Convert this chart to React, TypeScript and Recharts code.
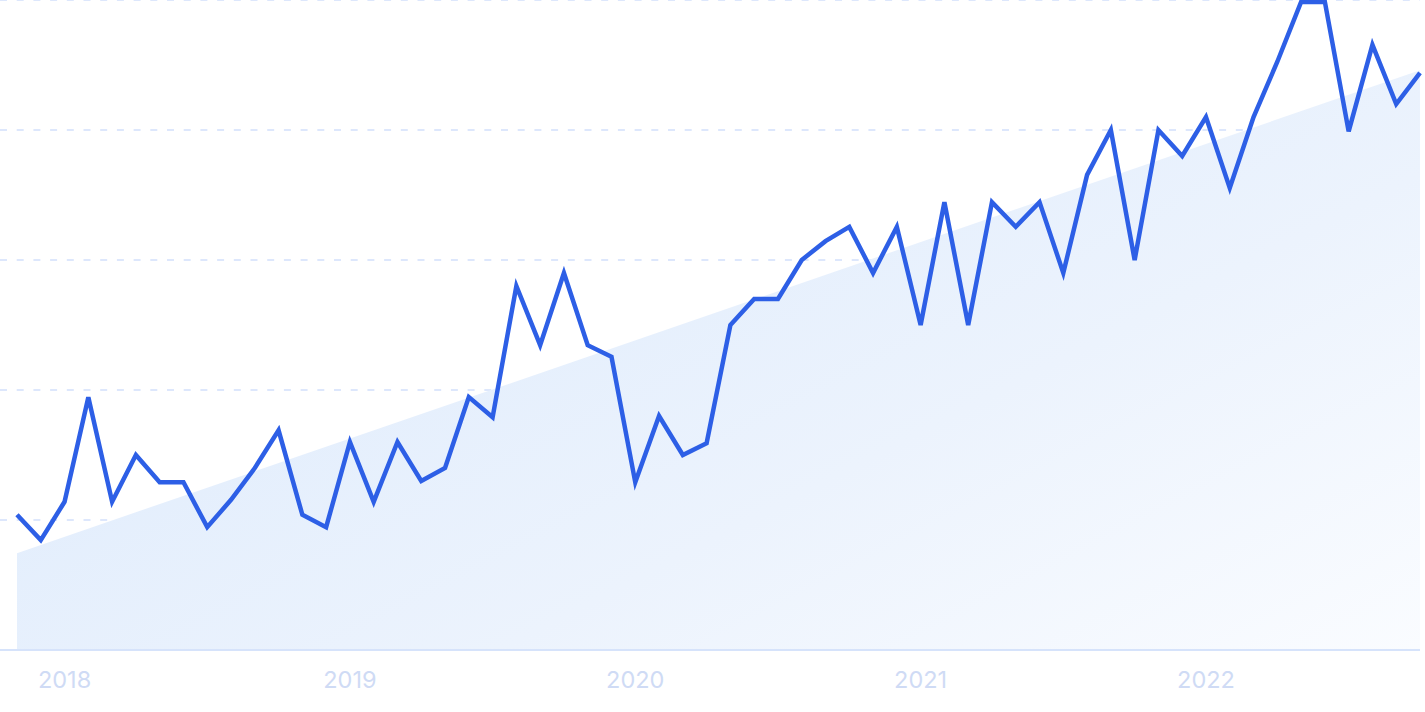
import React from 'react';
import { ComposedChart, Line, Area, XAxis, YAxis, CartesianGrid } from 'recharts';

const months = [
  '2017-11', '2017-12',
  '2018-01', '2018-02', '2018-03', '2018-04', '2018-05', '2018-06', '2018-07', '2018-08', '2018-09', '2018-10', '2018-11', '2018-12',
  '2019-01', '2019-02', '2019-03', '2019-04', '2019-05', '2019-06', '2019-07', '2019-08', '2019-09', '2019-10', '2019-11', '2019-12',
  '2020-01', '2020-02', '2020-03', '2020-04', '2020-05', '2020-06', '2020-07', '2020-08', '2020-09', '2020-10', '2020-11', '2020-12',
  '2021-01', '2021-02', '2021-03', '2021-04', '2021-05', '2021-06', '2021-07', '2021-08', '2021-09', '2021-10', '2021-11', '2021-12',
  '2022-01', '2022-02', '2022-03', '2022-04', '2022-05', '2022-06', '2022-07', '2022-08', '2022-09', '2022-10',
];

const interest = [
  20.8, 16.9,
  22.8, 38.9, 22.8, 30, 25.8, 25.8, 18.9, 23.1, 28, 33.8, 20.8, 18.9,
  32, 22.8, 32, 26, 28, 38.9, 35.8, 56, 46.9, 58, 46.9, 45.1,
  25.8, 36, 30, 31.8, 50, 54, 54, 60, 62.9, 65.1, 58, 65.1, 50, 68.9,
  50, 68.9, 65.1, 68.9, 58, 73.1, 80, 60, 80, 76,
  82, 71.1, 82, 90.5, 99.7, 99.7, 79.8, 93.1, 84, 88.8,
];

// trend line: only start and end values
const trendStart = 14.9;
const trendEnd = 89.2;

const tickMonths = ['2018-01', '2019-01', '2020-01', '2021-01', '2022-01'];
const yearLabels = ['2018', '2019', '2020', '2021', '2022'];
const yTicks = [0, 20, 40, 60, 80, 100];

const data = months.map((m, i) => ({
  month: m,
  value: interest[i],
  trend: i === 0 ? trendStart : i === months.length - 1 ? trendEnd : null,
}));

export default function App() {
  return (
    <div style={{ position: 'absolute', left: 0, top: 0, width: 1425, height: 712, background: '#fff' }}>
      <ComposedChart width={1425} height={712} data={data} margin={{ top: 0, right: 5, left: 0, bottom: 0 }}>
        <defs>
          <linearGradient id="trendFill" x1="0" y1="0.2" x2="1" y2="1">
            <stop offset="0%" stopColor="#dceafc" />
            <stop offset="60%" stopColor="#ecf3fd" />
            <stop offset="100%" stopColor="#fafcff" />
          </linearGradient>
        </defs>
        <CartesianGrid vertical={false} stroke="#d2e0fb" strokeDasharray="7 9.7" strokeWidth={1.6} />
        <XAxis
          dataKey="month"
          scale="point"
          ticks={tickMonths}
          interval={0}
          tickFormatter={(v: string) => yearLabels[tickMonths.indexOf(v)] ?? ''}
          padding={{ left: 17, right: 0 }}
          axisLine={{ stroke: '#d6e3fb', strokeWidth: 2 }}
          tickLine={false}
          tickSize={0}
          tickMargin={21}
          height={62}
          tick={{ fill: '#cfdbf5', fontSize: 23.5, fontFamily: 'Inter, sans-serif' }}
        />
        <YAxis hide domain={[0, 100]} ticks={yTicks} />
        <Area
          type="linear"
          dataKey="trend"
          connectNulls
          stroke="none"
          fill="url(#trendFill)"
          fillOpacity={1}
          isAnimationActive={false}
          dot={false}
          activeDot={false}
        />
        <Line
          type="linear"
          dataKey="value"
          stroke="#2d5fe6"
          strokeWidth={4.5}
          dot={false}
          activeDot={false}
          isAnimationActive={false}
        />
      </ComposedChart>
    </div>
  );
}
